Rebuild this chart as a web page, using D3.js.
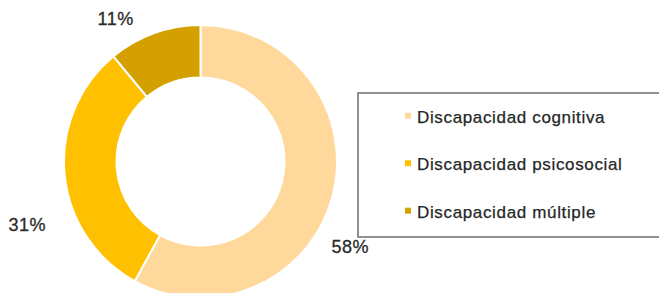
<!DOCTYPE html>
<html>
<head>
<meta charset="utf-8">
<script src="https://cdn.jsdelivr.net/npm/d3@7"></script>
<style>
  body { margin: 0; background: #fff; }
  svg text { font-family: "Liberation Sans", Arial, sans-serif; }
</style>
</head>
<body>
<div id="chart"></div>
<script>
// Data
var categories = ["Discapacidad cognitiva", "Discapacidad psicosocial", "Discapacidad múltiple"];
var values = [58, 31, 11];
var colors = ["#FFD89C", "#FFC000", "#D3A000"];

// label nudges (relative to centroid on label ring), baseline positions
var labelNudge = [[-13, 50], [-6, 54], [-28, 22]];

var width = 659, height = 293;
var cx = 200.5, cy = 161.5;
var outerR = 136.5, innerR = 84;

var svg = d3.select("#chart").append("svg")
    .attr("width", width)
    .attr("height", height);

var pie = d3.pie().sort(null).value(function(d) { return d; });
var arcs = pie(values);

var arc = d3.arc().innerRadius(innerR).outerRadius(outerR);
var labelArc = d3.arc().innerRadius(168).outerRadius(168);

var g = svg.append("g").attr("transform", "translate(" + cx + "," + cy + ")");

g.selectAll("path.slice")
    .data(arcs)
    .enter().append("path")
    .attr("class", "slice")
    .attr("d", arc)
    .attr("fill", function(d, i) { return colors[i]; })
    .attr("stroke", "#fff")
    .attr("stroke-width", 2);

// Percentage labels
g.selectAll("text.pct")
    .data(arcs)
    .enter().append("text")
    .attr("class", "pct")
    .attr("x", function(d, i) { return labelArc.centroid(d)[0] + labelNudge[i][0]; })
    .attr("y", function(d, i) { return labelArc.centroid(d)[1] + labelNudge[i][1]; })
    .attr("text-anchor", "middle")
    .attr("font-size", 18)
    .attr("letter-spacing", 0.5)
    .attr("fill", "#2b2b2b")
    .attr("stroke", "#2b2b2b")
    .attr("stroke-width", 0.3)
    .text(function(d) { return d.data + "%"; });

// Legend
var legend = svg.append("g").attr("transform", "translate(358,93)");

legend.append("rect")
    .attr("x", 0)
    .attr("y", 0)
    .attr("width", 320)
    .attr("height", 144)
    .attr("fill", "#fff")
    .attr("stroke", "#6e6e6e")
    .attr("stroke-width", 1.5);

var rowY = d3.scalePoint().domain(categories).range([29.7, 124.7]);

var item = legend.selectAll("g.item")
    .data(categories)
    .enter().append("g")
    .attr("class", "item")
    .attr("transform", function(d) { return "translate(0," + rowY(d) + ")"; });

item.append("rect")
    .attr("x", 47)
    .attr("y", -10)
    .attr("width", 6)
    .attr("height", 6)
    .attr("fill", function(d, i) { return colors[i]; });

item.append("text")
    .attr("x", 59)
    .attr("y", 0)
    .attr("font-size", 17)
    .attr("letter-spacing", 0.65)
    .attr("fill", "#262626")
    .attr("stroke", "#262626")
    .attr("stroke-width", 0.25)
    .text(function(d) { return d; });
</script>
</body>
</html>
